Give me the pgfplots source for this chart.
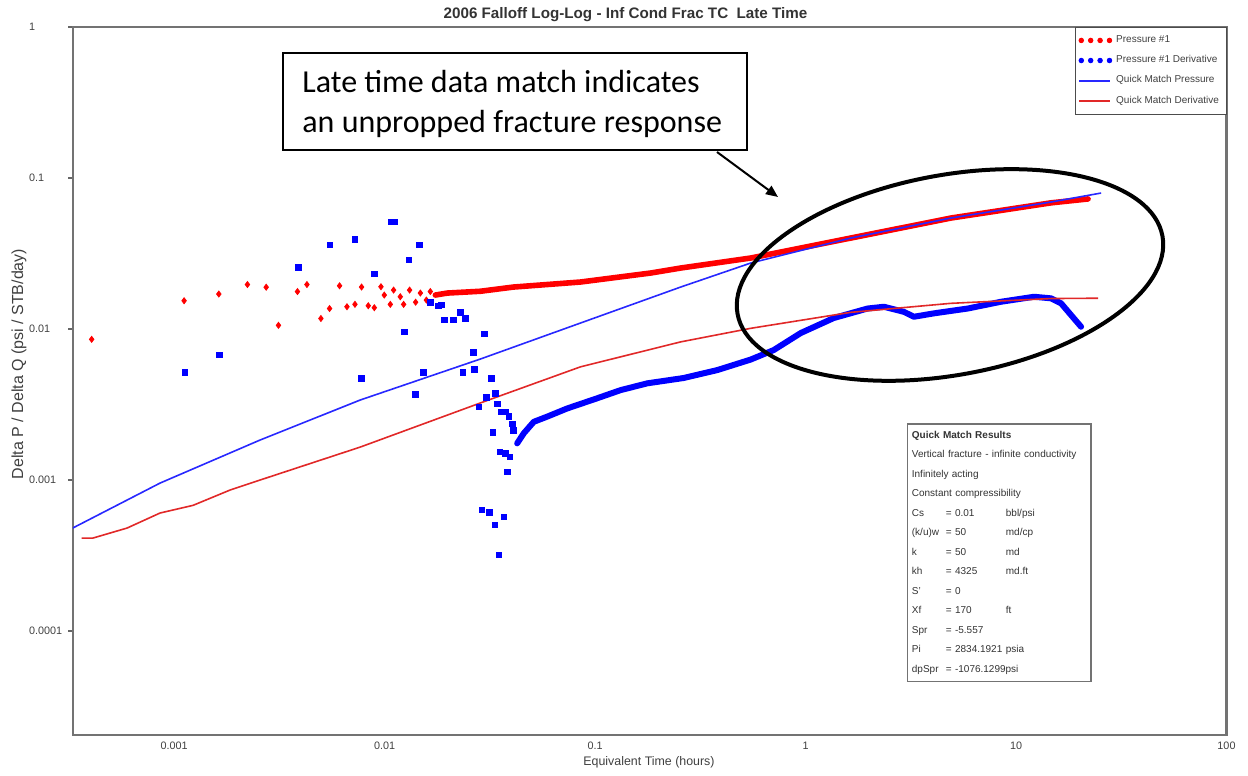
\documentclass[border=0pt]{standalone}
\usepackage{pgfplots}
\pgfplotsset{compat=1.18}
\usepackage{fontspec}
\setmainfont{Liberation Sans}
\newfontfamily\calib{Carlito}
\usetikzlibrary{arrows.meta}

\definecolor{pred}{RGB}{255,0,0}
\definecolor{pblue}{RGB}{0,0,255}
\definecolor{qred}{RGB}{225,40,40}
\definecolor{qblue}{RGB}{40,40,255}

\begin{document}
\begin{tikzpicture}
% canvas: 1 px of the reference = 0.5pt
\path[use as bounding box] (0,0) rectangle (624pt,388pt);
\begin{axis}[
    at={(36.5pt,20.5pt)}, anchor=south west,
    scale only axis, width=576.75pt, height=354pt,
    xmode=log, ymode=log,
    xmin=3.31e-4, xmax=100, ymin=2.05e-5, ymax=1,
    xtick={0.001,0.01,0.1,1,10,100},
    xticklabels={0.001,0.01,0.1,1,10,100},
    ytick={0.0001,0.001,0.01,0.1,1},
    yticklabels={0.0001,0.001,0.01,0.1,1},
    xminorticks=false, yminorticks=false,
    axis line style={draw=black!55, line width=1.3pt},
    xtick style={draw=none},
    ytick pos=left, tick align=outside,
    ytick style={draw=black!60, line width=0.6pt},
    major tick length=2.5pt,
    /pgf/number format/assume math mode=true,
    ticklabel style={font=\fontsize{5.4}{6}\selectfont, text=black!75},
    xticklabel style={yshift=2.5pt},
    yticklabel style={anchor=west, xshift=-23pt},
    legend cell align=left,
    legend style={at={(1,1)}, anchor=north east, draw=black!70, line width=0.5pt,
        font=\fontsize{5}{6}\selectfont, text=black!75,
        inner xsep=1.5pt, inner ysep=2pt, row sep=1pt},
    legend image code/.code={\draw[#1] (0pt,0pt) -- (15.5pt,0pt);},
]
% Pressure #1
\addplot[only marks, mark=diamond*, mark size=1.5pt, color=pred,
    legend image code/.code={\foreach \k in {0,1,2,3}{\fill[pred] ({\k*4.7pt+1pt},0pt) circle (1.1pt);}}]
coordinates {
(4.06e-4,8.55e-3) (1.116e-3,0.01539) (1.632e-3,0.01705) (2.232e-3,0.01971)
(2.739e-3,0.01892) (3.133e-3,0.01058) (3.858e-3,0.01771) (4.277e-3,0.01971)
(4.985e-3,0.01174) (5.478e-3,0.01367) (6.113e-3,0.01935) (6.628e-3,0.01405)
(7.236e-3,0.01457) (7.777e-3,0.01897) (8.371e-3,0.01426) (8.939e-3,0.01384)
(9.618e-3,0.01906) (9.97e-3,0.01679) (0.01065,0.01457) (0.01104,0.01812)
(0.01188,0.01636) (0.01232,0.01457) (0.01315,0.01812) (0.01405,0.01505)
(0.0148,0.01731) (0.0158,0.01556) (0.0165,0.01771)
};
\addlegendentry{Pressure \#1}
\addplot[forget plot, color=pred, line width=2.8pt, line cap=round, line join=round]
coordinates {
(0.01743,0.01679) (0.01988,0.01731) (0.02853,0.01779) (0.04095,0.01897)
(0.0853,0.02048) (0.1837,0.02349) (0.2551,0.02535) (0.549,0.02953)
(1.641,0.04005) (4.908,0.05434) (14.67,0.0685) (21.99,0.0727)
};
% Pressure #1 Derivative
\addplot[only marks, mark=square*, mark size=1.4pt, color=pblue,
    legend image code/.code={\foreach \k in {0,1,2,3}{\fill[pblue] ({\k*4.7pt+1pt},0pt) circle (1.1pt);}}]
coordinates {
(1.124e-3,5.14e-3) (1.64e-3,6.76e-3) (3.889e-3,0.02563) (5.51e-3,0.03599)
(7.236e-3,0.03927) (7.777e-3,4.69e-3) (8.939e-3,0.02313) (0.0108,0.05112)
(0.01112,0.05112) (0.01242,9.55e-3) (0.01307,0.02864) (0.01405,3.69e-3)
(0.01468,0.03599) (0.01533,5.14e-3) (0.0165,0.01505) (0.01807,0.01426)
(0.01862,0.01442) (0.01924,0.01147) (0.02123,0.01147) (0.02293,0.0129)
(0.02429,0.01174) (0.0236,5.14e-3) (0.02635,6.99e-3) (0.02673,5.41e-3)
(0.02803,3.06e-3) (0.02981,9.27e-3) (0.02907,6.33e-4) (0.03149,6.11e-4)
(0.03047,3.53e-3) (0.03208,4.69e-3) (0.03265,2.07e-3) (0.03363,3.75e-3)
(0.03337,5.04e-4) (0.03448,3.19e-3) (0.03487,3.19e-4) (0.03525,1.54e-3)
(0.0358,2.83e-3) (0.03683,5.71e-4) (0.03752,2.83e-3) (0.03752,1.50e-3)
(0.03823,1.135e-3) (0.0389,2.63e-3) (0.03933,1.427e-3) (0.04037,2.35e-3)
(0.041,2.14e-3)
};
\addlegendentry{Pressure \#1 Derivative}
\addplot[forget plot, color=pblue, line width=3pt, line cap=round, line join=round]
coordinates {
(0.04266,1.75e-3) (0.04586,2.04e-3) (0.05116,2.43e-3) (0.05925,2.63e-3)
(0.07377,2.98e-3) (0.1024,3.48e-3) (0.1322,3.94e-3) (0.1771,4.37e-3)
(0.2636,4.74e-3) (0.3813,5.35e-3) (0.549,6.28e-3) (0.7063,7.26e-3)
(0.9493,9.41e-3) (1.3625,0.01183) (1.970,0.01367) (2.356,0.01405)
(2.933,0.0130) (3.273,0.01206) (4.074,0.0127) (5.892,0.01367)
(8.487,0.01516) (12.18,0.01636) (14.67,0.01597) (16.37,0.0148)
(18.26,0.01238) (20.38,0.01035)
};
% Quick Match Pressure
\addplot[color=qblue, line width=0.8pt]
coordinates {
(3.30e-4,4.81e-4) (8.58e-4,9.55e-4) (2.56e-3,1.84e-3) (7.67e-3,3.39e-3)
(0.02853,6.33e-3) (0.0853,0.01096) (0.2551,0.01897) (0.549,0.02735)
(1.641,0.04005) (4.908,0.05434) (14.67,0.06936) (25.37,0.07955)
};
\addlegendentry{Quick Match Pressure}
% Quick Match Derivative
\addplot[color=qred, line width=0.8pt]
coordinates {
(3.64e-4,4.13e-4) (4.12e-4,4.13e-4) (5.98e-4,4.81e-4) (8.58e-4,6.05e-4)
(1.231e-3,6.8e-4) (1.846e-3,8.59e-4) (2.56e-3,1.0e-3) (7.67e-3,1.654e-3)
(0.02853,3.24e-3) (0.0853,5.62e-3) (0.2551,8.22e-3) (0.549,0.01011)
(1.641,0.0129) (4.908,0.0148) (14.67,0.01592) (24.55,0.0160)
};
\addlegendentry{Quick Match Derivative}
\end{axis}

% titles
\node[font=\bfseries\fontsize{7.6}{9}\selectfont, text=black!80] at (312.75pt,380.5pt)
    {2006 Falloff Log-Log - Inf Cond Frac TC\ \ Late Time};
\node[font=\fontsize{6.2}{7}\selectfont, text=black!75] at (324.5pt,7pt)
    {Equivalent Time (hours)};
\node[font=\fontsize{8}{9}\selectfont, text=black!75, rotate=90] at (9.5pt,206pt)
    {Delta P / Delta Q (psi / STB/day)};

% annotation
\draw[line width=1pt, fill=white] (141.5pt,361.5pt) rectangle (373.5pt,313pt);
\node[anchor=base west, inner sep=0pt, font=\calib\fontsize{16}{19}\selectfont] at (151pt,341.5pt)
    {Late time data match indicates};
\node[anchor=base west, inner sep=0pt, font=\calib\fontsize{16}{19}\selectfont] at (151pt,321.5pt)
    {an unpropped fracture response};
\draw[line width=1pt, -{Triangle[length=6pt,width=5pt]}] (358.5pt,312pt) -- (389pt,289.5pt);
\draw[line width=2pt, rotate around={10.4:(475pt,250.5pt)}]
    (475pt,250.5pt) ellipse [x radius=108pt, y radius=50pt];

% results box
\node[draw=black!55, line width=0.8pt, fill=white, anchor=north west,
      inner xsep=2.2pt, inner ysep=3.5pt, text width=87.3pt, align=left,
      font=\fontsize{5}{9.75}\selectfont, text=black!80]
    at (453.35pt,176.35pt) {%
    \textbf{Quick Match Results}\\
    Vertical fracture - infinite conductivity\\
    Infinitely acting\\
    Constant compressibility\\
    \makebox[17pt][l]{Cs}\makebox[30pt][l]{= 0.01}bbl/psi\\
    \makebox[17pt][l]{(k/u)w}\makebox[30pt][l]{= 50}md/cp\\
    \makebox[17pt][l]{k}\makebox[30pt][l]{= 50}md\\
    \makebox[17pt][l]{kh}\makebox[30pt][l]{= 4325}md.ft\\
    \makebox[17pt][l]{S'}\makebox[30pt][l]{= 0}\\
    \makebox[17pt][l]{Xf}\makebox[30pt][l]{= 170}ft\\
    \makebox[17pt][l]{Spr}\makebox[30pt][l]{= -5.557}\\
    \makebox[17pt][l]{Pi}\makebox[30pt][l]{= 2834.1921}psia\\
    \makebox[17pt][l]{dpSpr}= -1076.1299psi};
\end{tikzpicture}
\end{document}
